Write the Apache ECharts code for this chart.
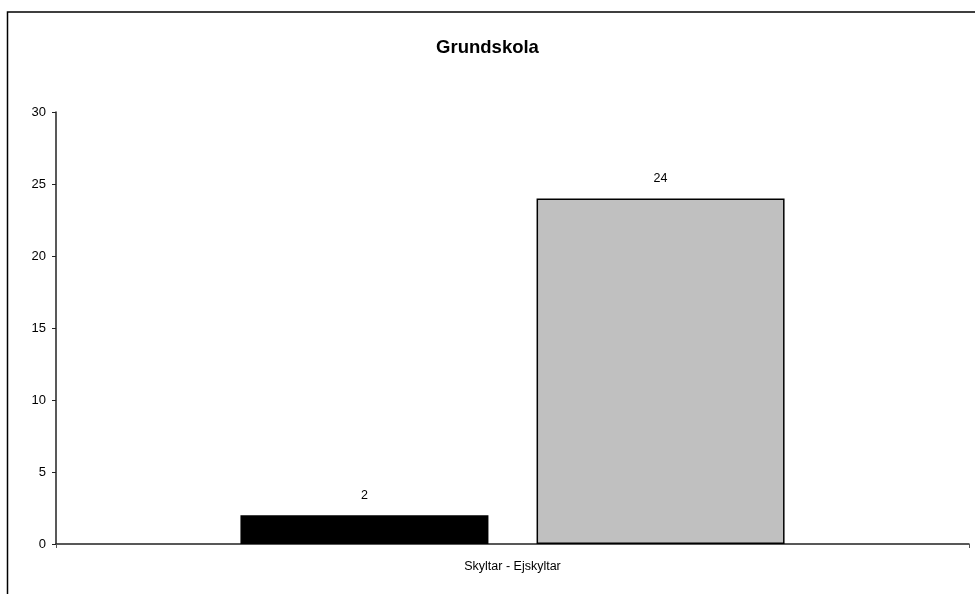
<!DOCTYPE html>
<html>
<head>
<meta charset="utf-8">
<script src="https://cdn.jsdelivr.net/npm/echarts@6/dist/echarts.min.js"></script>
<style>html,body{margin:0;padding:0;background:#fff}#c{width:975px;height:594px}</style>
</head>
<body>
<div id="c"></div>
<script>
var titleText = 'Grundskola';
var categories = ['Skyltar - Ejskyltar'];
var seriesNames = ['Skyltar', 'Ejskyltar'];
var valuesSkyltar = [2];
var valuesEjskyltar = [24];
var yTicks = [0, 5, 10, 15, 20, 25, 30];

var chart = echarts.init(document.getElementById('c'), null, {renderer: 'canvas'});
var font = 'Liberation Sans, Arial, sans-serif';
chart.setOption({
  animation: false,
  backgroundColor: '#fff',
  title: {
    text: titleText, left: 'center', top: 33,
    textStyle: {fontFamily: font, fontSize: 18.5, fontWeight: 'bold', color: '#000'}
  },
  graphic: [{
    type: 'rect', x: 7.5, y: 12, silent: true,
    shape: {x: 0, y: 0, width: 1200, height: 1200},
    style: {fill: 'none', stroke: '#000', lineWidth: 1.5}
  }],
  grid: {left: 56, right: 6, top: 112, bottom: 50, containLabel: false},
  xAxis: {
    type: 'category', data: categories,
    axisLine: {lineStyle: {color: '#222', width: 1.5}},
    axisTick: {show: true, inside: false, length: 4, alignWithLabel: false, lineStyle: {color: '#555'}},
    axisLabel: {fontFamily: font, fontSize: 12.5, color: '#000', margin: 16}
  },
  yAxis: {
    type: 'value', min: yTicks[0], max: yTicks[yTicks.length - 1], interval: 5,
    splitLine: {show: false},
    axisLine: {show: true, lineStyle: {color: '#222', width: 1.5}},
    axisTick: {show: true, length: 4, lineStyle: {color: '#222'}},
    axisLabel: {fontFamily: font, fontSize: 13, color: '#000', margin: 10}
  },
  series: [
    {
      name: seriesNames[0], type: 'bar', data: valuesSkyltar,
      barWidth: 248, barGap: '19.4%',
      itemStyle: {color: '#000', borderColor: '#000', borderWidth: 1.5},
      label: {show: true, position: 'top', distance: 13, fontFamily: font, fontSize: 12.5, color: '#000'}
    },
    {
      name: seriesNames[1], type: 'bar', data: valuesEjskyltar,
      barWidth: 248, barGap: '19.4%',
      itemStyle: {color: '#c0c0c0', borderColor: '#000', borderWidth: 1.5},
      label: {show: true, position: 'top', distance: 13, fontFamily: font, fontSize: 12.5, color: '#000'}
    }
  ]
});
</script>
</body>
</html>
